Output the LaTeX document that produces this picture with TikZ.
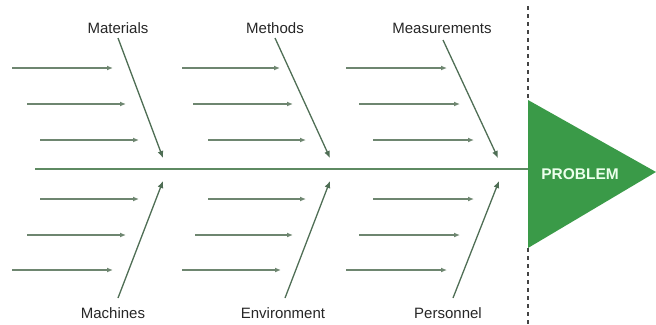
\documentclass[tikz,border=0pt]{standalone}
\usepackage{fontspec}
\setmainfont{Liberation Sans}
\usetikzlibrary{arrows.meta}
\definecolor{spinec}{HTML}{5E8A62}
\definecolor{arrc}{HTML}{6E8670}
\definecolor{diagc}{HTML}{4F6E55}
\definecolor{trig}{HTML}{3A9A48}
\definecolor{dashc}{HTML}{444444}
\tikzset{
  causearrow/.style={draw=arrc, line width=1.3pt, -{Latex[length=6pt,width=5pt]}},
  bone/.style={draw=diagc, line width=1.3pt, -{Latex[length=7pt,width=6pt]}},
  lbl/.style={font=\fontsize{15}{17}\selectfont, text=black!85, inner sep=1pt},
}
\begin{document}
\begin{tikzpicture}[x=1pt,y=-1pt]
\useasboundingbox (0,0) rectangle (656,324);
% dashed separator
\coordinate (d1) at (528,6);
\coordinate (d2) at (528,100);
\coordinate (d3) at (528,248);
\coordinate (d4) at (528,324);
\draw[dashc, line width=1.6pt, dash pattern=on 4pt off 4pt] (d1) -- (d2);
\draw[dashc, line width=1.6pt, dash pattern=on 4pt off 4pt] (d3) -- (d4);
% head triangle
\coordinate (t1) at (528,100);
\coordinate (t2) at (656,172);
\coordinate (t3) at (528,248);
\fill[trig] (t1) -- (t2) -- (t3) -- cycle;
\node[font=\fontsize{15.5}{17}\selectfont\bfseries, text=white!92!green] (prob) at (580,174) {PROBLEM};
% spine
\coordinate (s0) at (35,169);
\coordinate (s1) at (528,169);
\draw[spinec, line width=2.4pt] (s0) -- (s1);
% labels
\node[lbl] (mat) at (118,28) {Materials};
\node[lbl] (met) at (275,28) {Methods};
\node[lbl] (mea) at (442,28) {Measurements};
\node[lbl] (mac) at (113,313) {Machines};
\node[lbl] (env) at (283,313) {Environment};
\node[lbl] (per) at (448,313) {Personnel};
% bone endpoints
\coordinate (a1) at (118,38);  \coordinate (b1) at (163,158);
\coordinate (a2) at (275,38);  \coordinate (b2) at (330,158);
\coordinate (a3) at (443,40);  \coordinate (b3) at (498,158);
\coordinate (a4) at (118,298); \coordinate (b4) at (163,181);
\coordinate (a5) at (285,298); \coordinate (b5) at (330,181);
\coordinate (a6) at (453,298); \coordinate (b6) at (499,181);
\foreach \i in {1,...,6} \draw[bone] (a\i) -- (b\i);
% cause arrows
\foreach \xs/\xe/\y in {12/113/68, 27/126/104, 40/139/140,
                        182/280/68, 193/293/104, 208/306/140,
                        346/447/68, 359/460/104, 373/474/140,
                        40/139/199, 27/126/235, 12/113/270,
                        208/306/199, 195/293/235, 182/281/270,
                        373/474/199, 359/460/235, 346/447/270}
{
  \coordinate (cs) at (\xs,\y);
  \coordinate (ce) at (\xe,\y);
  \draw[causearrow] (cs) -- (ce);
}
\end{tikzpicture}
\end{document}
